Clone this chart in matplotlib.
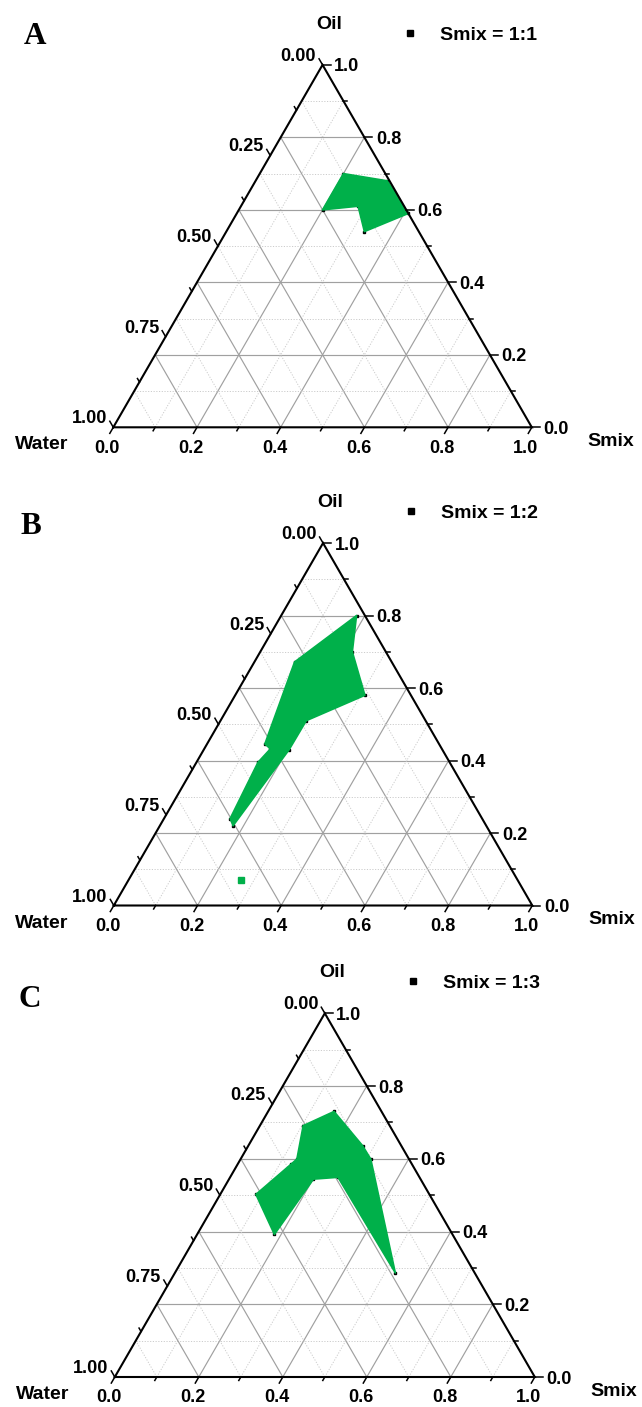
import numpy as np
import matplotlib
matplotlib.use("Agg")
import matplotlib.pyplot as plt
from matplotlib.patches import Polygon
from matplotlib.lines import Line2D

# ---------------- data (ternary compositions, fractions) ----------------
panel_letters = ["A", "B", "C"]
legend_labels = ["Smix = 1:1", "Smix = 1:2", "Smix = 1:3"]
axis_names = ["Oil", "Water", "Smix"]

# microemulsion region boundaries: oil fraction and Smix fraction (water = 1 - oil - smix)
oil_A = [0.70, 0.68, 0.59, 0.54, 0.61, 0.60]
smix_A = [0.20, 0.315, 0.41, 0.33, 0.28, 0.20]

oil_B = [0.80, 0.70, 0.58, 0.51, 0.43, 0.22, 0.24, 0.395, 0.432, 0.446, 0.672]
smix_B = [0.18, 0.22, 0.31, 0.205, 0.204, 0.175, 0.158, 0.147, 0.158, 0.138, 0.096]
oil_B_extra = [0.07]
smix_B_extra = [0.27]

oil_C = [0.73, 0.691, 0.599, 0.585, 0.502, 0.392, 0.544, 0.549, 0.286, 0.599, 0.636]
smix_C = [0.157, 0.103, 0.134, 0.127, 0.085, 0.184, 0.201, 0.257, 0.525, 0.310, 0.272]

regions = [(oil_A, smix_A, [], []),
           (oil_B, smix_B, oil_B_extra, smix_B_extra),
           (oil_C, smix_C, [], [])]

right_ticks = [0.0, 0.2, 0.4, 0.6, 0.8, 1.0]       # Oil axis
bottom_ticks = [0.0, 0.2, 0.4, 0.6, 0.8, 1.0]      # Smix axis
left_ticks = [0.00, 0.25, 0.50, 0.75, 1.00]        # Water axis

# ---------------- helpers ----------------
S3 = np.sqrt(3) / 2


def proj(oil, smix):
    oil = np.asarray(oil, float)
    smix = np.asarray(smix, float)
    return smix + oil / 2.0, oil * S3


W, H = 642, 1407
fig = plt.figure(figsize=(W / 100, H / 100), dpi=100)
fig.patch.set_facecolor("white")

# triangle placement in pixels: (left x, bottom y from top, side length)
placements = [(113.3, 427.3, 418.5), (113.8, 905.5, 418.5), (114.8, 1377.0, 420.0)]
# panel letter: (centre x px, baseline y px)
letter_pos = [(34.5, 44.0), (31.0, 534.0), (30.0, 1007.0)]

GREEN = "#00B04A"
SANS = ["Liberation Sans", "DejaVu Sans"]
TICKFONT = dict(family=SANS, weight="bold", size=13.0)
TITLEFONT = dict(family=SANS, weight="bold", size=14.0)
pt = 0.72  # points per pixel

for i, (lx, by, side) in enumerate(placements):
    ax = fig.add_axes([lx / W, (H - by) / H, side / W, side * S3 / H])
    ax.set_xlim(0, 1)
    ax.set_ylim(0, S3)
    ax.axis("off")
    px = 1.0 / side  # data units per pixel

    def note(txt, xy, dx, dy, **kw):
        ax.annotate(txt, xy, xytext=(dx * pt, dy * pt), textcoords="offset points",
                    annotation_clip=False, **kw)

    # grid lines
    for k in range(1, 10):
        v = k / 10.0
        major = (k % 2 == 0)
        kw = dict(color="#a0a0a0", lw=0.85, ls="-") if major else \
            dict(color="#cccccc", lw=0.7, ls=(0, (1.2, 1.6)))
        x, y = proj([v, v], [0, 1 - v]); ax.plot(x, y, zorder=1, **kw)
        x, y = proj([0, 1 - v], [v, v]); ax.plot(x, y, zorder=1, **kw)
        x, y = proj([0, 1 - v], [1 - v, 0]); ax.plot(x, y, zorder=1, **kw)

    # triangle frame
    x, y = proj([0, 0, 1, 0], [0, 1, 0, 0])
    ax.plot(x, y, color="black", lw=1.5, zorder=5, solid_joinstyle="miter", clip_on=False)

    # right axis (Oil) ticks
    for k in range(11):
        v = k / 10.0
        L = (8 if k % 2 == 0 else 4) * px
        x0, y0 = proj(v, 1 - v)
        ax.plot([x0, x0 + L], [y0, y0], color="black", lw=1.1, zorder=5, clip_on=False)
    for v in right_ticks:
        x0, y0 = proj(v, 1 - v)
        note(f"{v:.1f}", (x0 + 8 * px, y0), 3.5, -6.5, ha="left", va="baseline", **TICKFONT)

    # bottom axis (Smix) ticks
    for k in range(11):
        v = k / 10.0
        L = (7 if k % 2 == 0 else 4) * px
        x0, y0 = proj(0, v)
        ax.plot([x0, x0 - 0.5 * L], [y0, y0 - S3 * L], color="black", lw=1.1, zorder=5, clip_on=False)
    for v in bottom_ticks:
        x0, y0 = proj(0, v)
        note(f"{v:.1f}", (x0, y0), -6, -25.5, ha="center", va="baseline", **TICKFONT)

    # left axis (Water) ticks
    for k in range(9):
        w = k / 8.0
        L = (7 if k % 2 == 0 else 4) * px
        x0, y0 = proj(1 - w, 0)
        ax.plot([x0, x0 - 0.5 * L], [y0, y0 + S3 * L], color="black", lw=1.1, zorder=5, clip_on=False)
    for w in left_ticks:
        x0, y0 = proj(1 - w, 0)
        note(f"{w:.2f}", (x0 - 3.5 * px, y0 + 6 * px), -3, -2, ha="right", va="baseline", **TICKFONT)

    # region
    oil, smix, oil_e, smix_e = regions[i]
    x, y = proj(oil, smix)
    ax.plot(x, y, ls="none", marker="s", ms=1.8, color="black", zorder=2, clip_on=False)
    ax.add_patch(Polygon(np.column_stack([x, y]), closed=True, facecolor=GREEN,
                         edgecolor=GREEN, lw=1.2, joinstyle="round", zorder=3))
    if oil_e:
        xe, ye = proj(oil_e, smix_e)
        ax.plot(xe, ye, ls="none", marker="s", ms=4.5, color=GREEN, mec=GREEN, zorder=3)

    # axis titles
    note(axis_names[0], proj(1, 0), 7, 36, ha="center", va="baseline", **TITLEFONT)
    note(axis_names[1], proj(0, 0), -45, -22, ha="right", va="baseline", **TITLEFONT)
    note(axis_names[2], proj(0, 1), 56, -18.5, ha="left", va="baseline", **TITLEFONT)

    # panel letter
    apex_x_px = lx + side / 2
    apex_y_px = by - side * S3
    lxp, lyp = letter_pos[i]
    note(panel_letters[i], proj(1, 0), lxp - apex_x_px, apex_y_px - lyp, ha="center", va="baseline",
         family=["Liberation Serif", "DejaVu Serif"], weight="bold", size=22.5)

    # legend
    handle = Line2D([], [], ls="none", marker="s", ms=4.5, color="black")
    ax.legend([handle], [legend_labels[i]], frameon=False, loc="center left",
              bbox_to_anchor=((apex_x_px + 78) / W, (H - (apex_y_px - 30)) / H),
              bbox_transform=fig.transFigure, borderpad=0, borderaxespad=0,
              handlelength=1.0, handletextpad=1.05,
              prop=dict(family=SANS, weight="bold", size=14))

fig.savefig("out.png", dpi=100, facecolor="white")
